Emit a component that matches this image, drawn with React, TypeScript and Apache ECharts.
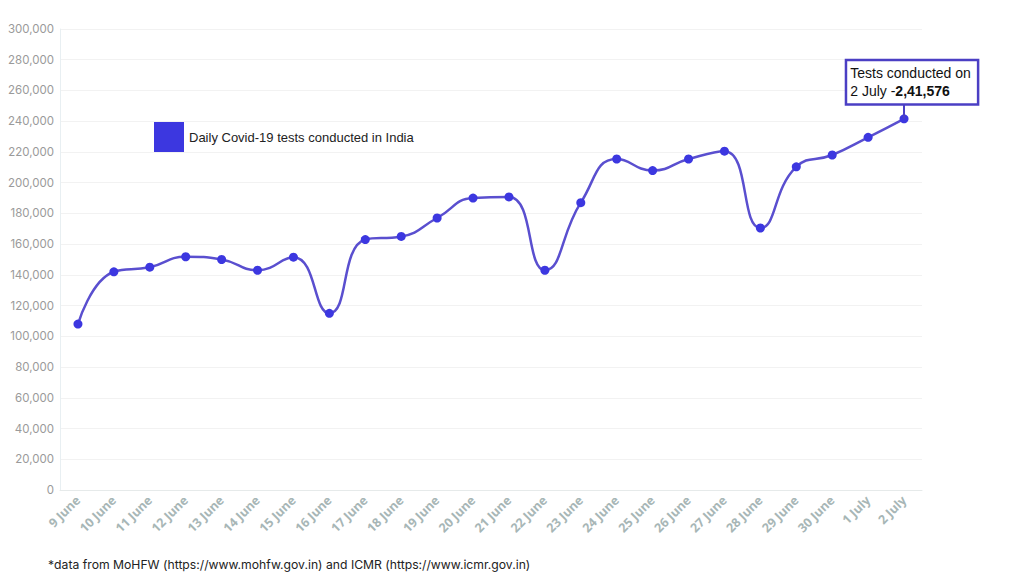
import React, { useEffect, useRef } from "react";
import * as echarts from "echarts";

const categories = [
  "9 June", "10 June", "11 June", "12 June", "13 June", "14 June", "15 June", "16 June",
  "17 June", "18 June", "19 June", "20 June", "21 June", "22 June", "23 June", "24 June",
  "25 June", "26 June", "27 June", "28 June", "29 June", "30 June", "1 July", "2 July",
];
const tests = [
  108000, 142000, 145000, 151800, 150000, 143000, 151500, 115000,
  163000, 165000, 177000, 190000, 190700, 143000, 187000, 215400,
  207900, 215400, 220500, 170500, 210300, 218000, 229500, 241576,
];
const seriesName = "Daily Covid-19 tests conducted in India";
const annotationTop = 252000;
const footnote = "*data from MoHFW (https://www.mohfw.gov.in) and ICMR (https://www.icmr.gov.in)";

export default function App() {
  const ref = useRef<HTMLDivElement>(null);
  useEffect(() => {
    if (!ref.current) return;
    const chart = echarts.init(ref.current, null, { renderer: "svg" });
    const last = tests.length - 1;
    chart.setOption({
      animation: false,
      backgroundColor: "#ffffff",
      grid: { left: 60, right: 102, top: 29, bottom: 86 },
      legend: {
        show: true,
        left: 149,
        top: 117,
        itemWidth: 30,
        itemHeight: 30,
        itemGap: 5,
        icon: "rect",
        textStyle: { color: "#222", fontSize: 13, fontFamily: "Liberation Sans" },
        data: [{ name: seriesName, icon: "rect", itemStyle: { color: "#3c37e0" } }],
      },
      xAxis: {
        type: "category",
        data: categories,
        boundaryGap: true,
        axisLine: { lineStyle: { color: "#e6eaea" } },
        axisTick: { alignWithLabel: true, lineStyle: { color: "#e6eaea" } },
        axisLabel: {
          rotate: 45,
          interval: 0,
          color: "#a7b6b6",
          fontSize: 12.5,
          fontWeight: "bold",
          fontFamily: "Open Sans",
          margin: 8,
        },
      },
      yAxis: {
        type: "value",
        min: 0,
        max: 300000,
        interval: 20000,
        axisLine: { show: true, lineStyle: { color: "#e8eff2" } },
        axisTick: { show: false },
        splitLine: { lineStyle: { color: "#f2f2f2" } },
        axisLabel: {
          color: "#9a9a9a",
          fontSize: 11.5,
          fontFamily: "Inter",
          margin: 6,
          formatter: (v: number) => v.toLocaleString("en-US"),
        },
      },
      series: [
        {
          name: seriesName,
          type: "line",
          smooth: 0.5,
          data: tests,
          symbol: "circle",
          symbolSize: 9,
          itemStyle: { color: "#3c37e0" },
          lineStyle: { color: "#5a4fcf", width: 2.5 },
          markLine: {
            silent: true,
            symbol: "none",
            label: { show: false },
            lineStyle: { color: "#4b3fc4", width: 2, type: "solid" },
            data: [
              [
                { coord: [categories[last], tests[last]] },
                { coord: [categories[last], annotationTop] },
              ],
            ],
          },
          markPoint: {
            symbol: "circle",
            symbolSize: 1,
            itemStyle: { color: "rgba(0,0,0,0)" },
            data: [
              {
                coord: [categories[last], annotationTop],
                label: {
                  show: true,
                  position: "top",
                  distance: 0,
                  offset: [8, 1],
                  backgroundColor: "#ffffff",
                  borderColor: "#4b3fc4",
                  borderWidth: 2.5,
                  padding: [3, 6, 3, 3],
                  align: "center",
                  formatter: "{a|Tests conducted on}\n{a|2 July -}{b|2,41,576}",
                  rich: {
                    a: { color: "#111", fontSize: 14, fontFamily: "Liberation Sans", lineHeight: 18, align: "left" },
                    b: { color: "#111", fontSize: 14, fontWeight: "bold", fontFamily: "Liberation Sans", lineHeight: 18, align: "left" },
                  },
                },
              },
            ],
          },
        },
      ],
      graphic: [
        {
          type: "text",
          left: 48,
          top: 558,
          style: { text: footnote, fill: "#222", fontSize: 12.2, fontFamily: "Inter" },
        },
      ],
    });
    return () => chart.dispose();
  }, []);
  return (
    <div
      ref={ref}
      style={{ position: "fixed", left: 0, top: 0, width: 1024, height: 576 }}
    />
  );
}
